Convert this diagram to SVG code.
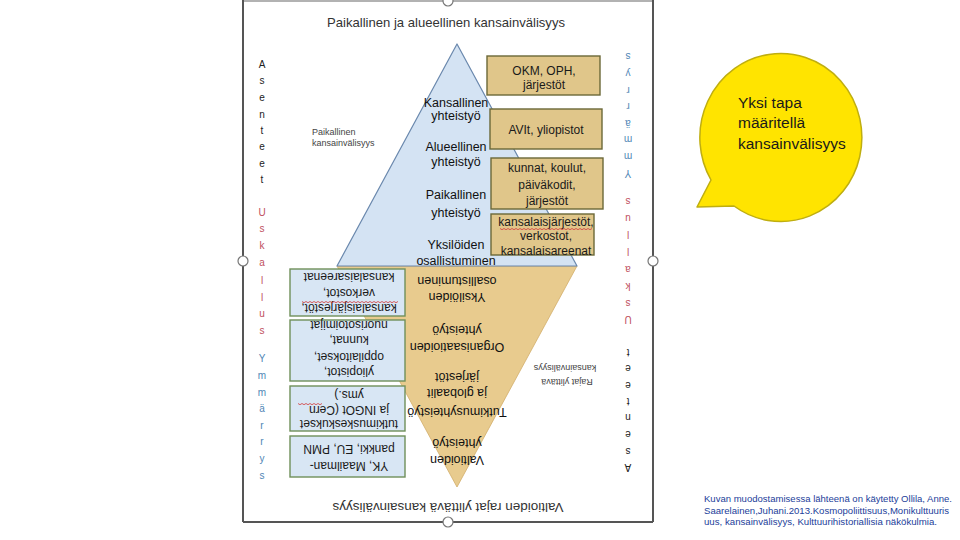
<svg xmlns="http://www.w3.org/2000/svg" width="960" height="540" viewBox="0 0 960 540">
<style>
text{font-family:"Liberation Sans",Arial,sans-serif;dominant-baseline:central}
.t{fill:#1a1a1a;font-size:12px;text-anchor:middle}
.lab{fill:#111;font-size:12.5px;text-anchor:middle}
.small{fill:#444;font-size:9px}
.ttl{fill:#333;font-size:13.5px;text-anchor:middle}
.boxR{fill:#e0c68a;stroke:#6b6838;stroke-width:1.4}
.boxL{fill:#d8e6f4;stroke:#6f8f5a;stroke-width:1.4}
.vA{fill:#222;font-size:10px;text-anchor:middle}
.vU{fill:#c0505e;font-size:10px;text-anchor:middle}
.vY{fill:#4f86b5;font-size:10px;text-anchor:middle}
.sq{fill:none;stroke:#d23a3a;stroke-width:0.8}
.frame{stroke:#555;stroke-width:2;fill:none}
.hdl{fill:#fff;stroke:#777;stroke-width:1.2}
.src{fill:#22409a;font-size:8.8px}
.bub{fill:#1a1a1a;font-size:15.5px}
</style>
<rect width="960" height="540" fill="#fff"/>

<g id="frame">
<line x1="243" y1="1" x2="653" y2="1" stroke="#999" stroke-width="1.5"/>
<line class="frame" x1="243" y1="0" x2="243" y2="522"/>
<line class="frame" x1="653" y1="0" x2="653" y2="522"/>
<line class="frame" x1="243" y1="522" x2="653" y2="522"/>
<circle class="hdl" cx="243" cy="261" r="5"/>
<circle class="hdl" cx="653" cy="261" r="5"/>
<circle class="hdl" cx="448" cy="522" r="5"/>
<circle class="hdl" cx="448" cy="1" r="5"/>
</g>

<g id="title"><text class="ttl" x="446" y="22" textLength="238" lengthAdjust="spacingAndGlyphs">Paikallinen ja alueellinen kansainvälisyys</text></g>

<g id="tan-triangle">
<path d="M337,266 L577,266 L457,487 Z" fill="#e8cb8e" stroke="#d2ad6a" stroke-width="0.8"/>
</g>
<g id="blue-triangle">
<path d="M457,44 L577,266 L337,266 Z" fill="#d4e3f3" stroke="#6a88ad" stroke-width="1.2" stroke-linejoin="round"/>
</g>

<g id="blue-labels">
<text class="lab" x="456" y="103">Kansallinen</text>
<text class="lab" x="456" y="116">yhteistyö</text>
<text class="lab" x="456" y="147">Alueellinen</text>
<text class="lab" x="456" y="162">yhteistyö</text>
<text class="lab" x="456" y="195">Paikallinen</text>
<text class="lab" x="456" y="213">yhteistyö</text>
<text class="lab" x="456" y="245">Yksilöiden</text>
<text class="lab" x="456" y="261">osallistuminen</text>
</g>

<g id="paikallinen-kv">
<text class="small" x="312" y="132">Paikallinen</text>
<text class="small" x="312" y="143">kansainvälisyys</text>
</g>

<g id="box-okm">
<rect class="boxR" x="487" y="56" width="113" height="39"/>
<text class="t" x="544" y="71">OKM, OPH,</text>
<text class="t" x="544" y="85">järjestöt</text>
</g>
<g id="box-avit">
<rect class="boxR" x="490" y="109" width="112" height="40"/>
<text class="t" x="546" y="130">AVIt, yliopistot</text>
</g>
<g id="box-kunnat">
<rect class="boxR" x="491" y="158" width="112" height="51"/>
<text class="t" x="547" y="168">kunnat, koulut,</text>
<text class="t" x="547" y="185">päiväkodit,</text>
<text class="t" x="547" y="201">järjestöt</text>
</g>
<g id="box-kansalais-r">
<rect class="boxR" x="491" y="214" width="103" height="41"/>
<text class="t" x="546" y="222">kansalaisjärjestöt,</text>
<path class="sq" d="M500,228.5 l2,1.2 l2,-1.2 l2,1.2 l2,-1.2 l2,1.2 l2,-1.2 l2,1.2 l2,-1.2 l2,1.2 l2,-1.2 l2,1.2 l2,-1.2 l2,1.2 l2,-1.2 l2,1.2 l2,-1.2 l2,1.2 l2,-1.2 l2,1.2 l2,-1.2 l2,1.2 l2,-1.2 l2,1.2 l2,-1.2 l2,1.2 l2,-1.2 l2,1.2 l2,-1.2 l2,1.2 l2,-1.2 l2,1.2 l2,-1.2 l2,1.2 l2,-1.2 l2,1.2 l2,-1.2 l2,1.2 l2,-1.2 l2,1.2 l2,-1.2 l2,1.2 l2,-1.2 l2,1.2 l2,-1.2 l2,1.2 l2,-1.2"/>
<text class="t" x="546" y="236">verkostot,</text>
<text class="t" x="546" y="251">kansalaisareenat</text>
</g>

<g id="box-kansalais-l">
<rect class="boxL" x="290" y="269" width="115" height="47"/>
<text class="t" x="349" y="308" transform="rotate(180 349 308)">kansalaisjärjestöt,</text>
<path class="sq" d="M302,301.5 l2,1.2 l2,-1.2 l2,1.2 l2,-1.2 l2,1.2 l2,-1.2 l2,1.2 l2,-1.2 l2,1.2 l2,-1.2 l2,1.2 l2,-1.2 l2,1.2 l2,-1.2 l2,1.2 l2,-1.2 l2,1.2 l2,-1.2 l2,1.2 l2,-1.2 l2,1.2 l2,-1.2 l2,1.2 l2,-1.2 l2,1.2 l2,-1.2 l2,1.2 l2,-1.2 l2,1.2 l2,-1.2 l2,1.2 l2,-1.2 l2,1.2 l2,-1.2 l2,1.2 l2,-1.2 l2,1.2 l2,-1.2 l2,1.2 l2,-1.2 l2,1.2 l2,-1.2 l2,1.2 l2,-1.2 l2,1.2 l2,-1.2 l2,1.2 l2,-1.2"/>
<text class="t" x="349" y="293" transform="rotate(180 349 293)">verkostot,</text>
<text class="t" x="349" y="277" transform="rotate(180 349 277)">kansalaisareenat</text>
</g>
<g id="box-yliopistot-l">
<rect class="boxL" x="290" y="320" width="115" height="61"/>
<text class="t" x="349" y="372" transform="rotate(180 349 372)">yliopistot,</text>
<text class="t" x="349" y="357" transform="rotate(180 349 357)">oppilaitokset,</text>
<text class="t" x="349" y="340" transform="rotate(180 349 340)">kunnat,</text>
<text class="t" x="349" y="325" transform="rotate(180 349 325)">nuorisotoimijat</text>
</g>
<g id="box-tutkimus-l">
<rect class="boxL" x="290" y="386" width="115" height="45"/>
<text class="t" x="349" y="424" transform="rotate(180 349 424)">tutkimuskeskukset</text>
<text class="t" x="349" y="410" transform="rotate(180 349 410)">ja INGOt (Cern</text>
<path class="sq" d="M298,403.5 l2,1.2 l2,-1.2 l2,1.2 l2,-1.2 l2,1.2 l2,-1.2 l2,1.2 l2,-1.2 l2,1.2 l2,-1.2 l2,1.2 l2,-1.2"/>
<text class="t" x="349" y="395" transform="rotate(180 349 395)">yms.)</text>
</g>
<g id="box-yk-l">
<rect class="boxL" x="290" y="436" width="115" height="41"/>
<text class="t" x="349" y="466" transform="rotate(180 349 466)">YK, Maailman-</text>
<text class="t" x="349" y="449" transform="rotate(180 349 449)">pankki, EU, PMN</text>
</g>

<g id="tan-labels">
<text class="lab" x="457" y="297" transform="rotate(180 457 297)">Yksilöiden</text>
<text class="lab" x="457" y="281" transform="rotate(180 457 281)">osallistuminen</text>
<text class="lab" x="457" y="347" transform="rotate(180 457 347)">Organisaatioiden</text>
<text class="lab" x="457" y="330" transform="rotate(180 457 330)">yhteistyö</text>
<text class="lab" x="457" y="412" transform="rotate(180 457 412)">Tutkimusyhteistyö</text>
<text class="lab" x="457" y="393" transform="rotate(180 457 393)">ja globaalit</text>
<text class="lab" x="457" y="377" transform="rotate(180 457 377)">järjestöt</text>
<text class="lab" x="457" y="460" transform="rotate(180 457 460)">Valtioiden</text>
<text class="lab" x="457" y="443" transform="rotate(180 457 443)">yhteistyö</text>
</g>

<g id="rajat-kv">
<text class="small" x="567" y="382" text-anchor="middle" transform="rotate(180 567 382)">Rajat ylittävä</text>
<text class="small" x="565" y="368" text-anchor="middle" transform="rotate(180 565 368)">kansainvälisyys</text>
</g>

<g id="bottom-title"><text class="ttl" x="448" y="507" textLength="231" lengthAdjust="spacingAndGlyphs" transform="rotate(180 448 507)">Valtioiden rajat ylittävä kansainvälisyys</text></g>

<g id="left-column">
<text class="vA"><tspan x="262" y="64">A</tspan><tspan x="262" y="80">s</tspan><tspan x="262" y="97">e</tspan><tspan x="262" y="114">n</tspan><tspan x="262" y="130">t</tspan><tspan x="262" y="146">e</tspan><tspan x="262" y="163">e</tspan><tspan x="262" y="179">t</tspan></text>
<text class="vU"><tspan x="262" y="212">U</tspan><tspan x="262" y="228">s</tspan><tspan x="262" y="245">k</tspan><tspan x="262" y="262">a</tspan><tspan x="262" y="280">l</tspan><tspan x="262" y="297">l</tspan><tspan x="262" y="313">u</tspan><tspan x="262" y="330">s</tspan></text>
<text class="vY"><tspan x="262" y="358">Y</tspan><tspan x="262" y="375">m</tspan><tspan x="262" y="392">m</tspan><tspan x="262" y="408">ä</tspan><tspan x="262" y="425">r</tspan><tspan x="262" y="441">r</tspan><tspan x="262" y="458">y</tspan><tspan x="262" y="475">s</tspan></text>
</g>
<g id="right-column" transform="rotate(180 445 266)">
<text class="vA"><tspan x="262" y="64">A</tspan><tspan x="262" y="80">s</tspan><tspan x="262" y="97">e</tspan><tspan x="262" y="114">n</tspan><tspan x="262" y="130">t</tspan><tspan x="262" y="146">e</tspan><tspan x="262" y="163">e</tspan><tspan x="262" y="179">t</tspan></text>
<text class="vU"><tspan x="262" y="212">U</tspan><tspan x="262" y="228">s</tspan><tspan x="262" y="245">k</tspan><tspan x="262" y="262">a</tspan><tspan x="262" y="280">l</tspan><tspan x="262" y="297">l</tspan><tspan x="262" y="313">u</tspan><tspan x="262" y="330">s</tspan></text>
<text class="vY"><tspan x="262" y="358">Y</tspan><tspan x="262" y="375">m</tspan><tspan x="262" y="392">m</tspan><tspan x="262" y="408">ä</tspan><tspan x="262" y="425">r</tspan><tspan x="262" y="441">r</tspan><tspan x="262" y="458">y</tspan><tspan x="262" y="475">s</tspan></text>
</g>

<g id="connectors"></g>

<g id="speech-bubble">
<path d="M711,180 A81,84 0 1,1 734,206 L697,207 Z" fill="#ffe400" stroke="#bfae10" stroke-width="1.5" stroke-linejoin="round"/>
<text class="bub" x="738" y="102">Yksi tapa</text>
<text class="bub" x="738" y="122">määritellä</text>
<text class="bub" x="738" y="143">kansainvälisyys</text>
</g>

<g id="source">
<text class="src" x="704" y="499" textLength="248" lengthAdjust="spacingAndGlyphs">Kuvan muodostamisessa lähteenä on käytetty Ollila, Anne.</text>
<text class="src" x="704" y="510.5" textLength="245" lengthAdjust="spacingAndGlyphs">Saarelainen,Juhani.2013.Kosmopoliittisuus,Monikulttuuris</text>
<text class="src" x="704" y="522" textLength="233" lengthAdjust="spacingAndGlyphs">uus, kansainvälisyys, Kulttuurihistoriallisia näkökulmia.</text>
</g>
</svg>
